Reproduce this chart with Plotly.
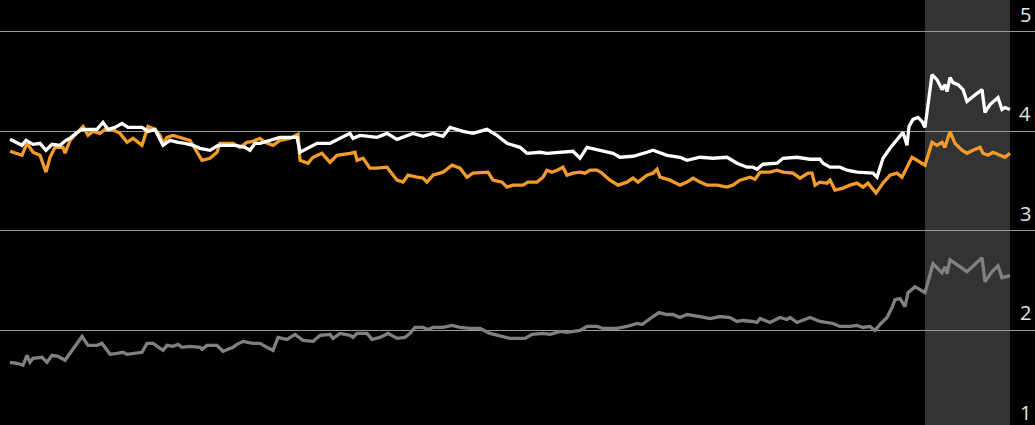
import plotly.graph_objects as go

# ---- data (x = trading-day index) ----
white_x = [10, 22, 26, 33, 40, 46, 52, 60, 66, 70, 76, 82, 90, 97, 103, 108, 115, 122, 128, 135, 142, 148, 155, 163, 170, 178, 185, 193, 200, 210, 218, 225, 235, 245, 250, 255, 260, 280, 297, 300, 317, 330, 340, 350, 353, 360, 377, 387, 397, 413, 423, 433, 443, 450, 463, 473, 487, 497, 507, 520, 527, 540, 547, 560, 573, 580, 587, 600, 613, 620, 633, 647, 653, 667, 680, 687, 700, 713, 727, 737, 747, 753, 757, 763, 777, 783, 797, 810, 820, 823, 830, 840, 847, 857, 867, 873, 877, 883, 890, 897, 903, 907, 909, 913, 918, 922, 925, 932, 937, 942, 945, 947, 950, 953, 958, 963, 967, 973, 982, 985, 990, 998, 1002, 1005, 1010]
white_y = [3.92, 3.86, 3.91, 3.87, 3.88, 3.81, 3.87, 3.86, 3.91, 3.93, 3.98, 4.02, 4.02, 4.02, 4.09, 4.02, 4.04, 4.08, 4.04, 4.04, 4.04, 4.00, 4.02, 3.86, 3.91, 3.89, 3.88, 3.86, 3.83, 3.81, 3.86, 3.86, 3.86, 3.84, 3.81, 3.88, 3.88, 3.94, 3.94, 3.79, 3.88, 3.88, 3.93, 3.98, 3.93, 3.96, 3.94, 3.98, 3.92, 3.98, 3.95, 3.98, 3.95, 4.04, 4.00, 3.98, 4.02, 3.96, 3.88, 3.84, 3.78, 3.79, 3.78, 3.79, 3.80, 3.73, 3.84, 3.81, 3.78, 3.74, 3.75, 3.79, 3.81, 3.76, 3.74, 3.71, 3.74, 3.73, 3.74, 3.68, 3.64, 3.64, 3.62, 3.67, 3.68, 3.73, 3.74, 3.72, 3.72, 3.68, 3.64, 3.64, 3.61, 3.59, 3.58, 3.58, 3.54, 3.73, 3.83, 3.91, 3.99, 3.86, 4.05, 4.12, 4.14, 4.10, 4.04, 4.57, 4.52, 4.42, 4.47, 4.40, 4.54, 4.49, 4.47, 4.42, 4.30, 4.35, 4.42, 4.19, 4.27, 4.34, 4.22, 4.24, 4.22]

orange_x = [10, 22, 27, 33, 40, 46, 50, 55, 63, 65, 70, 77, 83, 88, 93, 100, 105, 112, 120, 127, 133, 142, 148, 155, 160, 163, 167, 173, 180, 190, 202, 210, 217, 220, 233, 240, 247, 253, 260, 265, 273, 280, 290, 298, 300, 308, 313, 322, 330, 337, 350, 355, 357, 363, 370, 377, 387, 397, 403, 408, 417, 423, 427, 433, 443, 452, 460, 467, 473, 483, 488, 493, 502, 507, 513, 523, 528, 537, 543, 547, 552, 557, 563, 567, 573, 580, 585, 590, 597, 602, 610, 618, 627, 633, 638, 647, 653, 657, 660, 670, 680, 687, 693, 700, 707, 717, 727, 733, 740, 750, 755, 760, 770, 777, 783, 793, 800, 808, 812, 815, 820, 827, 830, 835, 843, 850, 857, 863, 868, 876, 883, 890, 897, 902, 907, 912, 917, 925, 932, 937, 942, 945, 950, 955, 962, 967, 973, 980, 983, 988, 993, 1000, 1005, 1010]
orange_y = [3.80, 3.76, 3.88, 3.79, 3.76, 3.59, 3.74, 3.84, 3.84, 3.78, 3.91, 3.98, 4.05, 3.96, 4.00, 3.98, 4.02, 4.02, 3.98, 3.89, 3.93, 3.86, 4.05, 4.02, 3.96, 3.88, 3.94, 3.96, 3.94, 3.91, 3.71, 3.73, 3.79, 3.88, 3.88, 3.84, 3.89, 3.90, 3.93, 3.89, 3.86, 3.91, 3.93, 3.97, 3.71, 3.68, 3.74, 3.78, 3.69, 3.76, 3.78, 3.79, 3.71, 3.73, 3.63, 3.63, 3.64, 3.51, 3.49, 3.56, 3.54, 3.53, 3.49, 3.56, 3.59, 3.66, 3.63, 3.54, 3.58, 3.59, 3.59, 3.51, 3.49, 3.44, 3.46, 3.46, 3.49, 3.49, 3.54, 3.61, 3.59, 3.61, 3.64, 3.56, 3.58, 3.59, 3.58, 3.61, 3.61, 3.58, 3.51, 3.46, 3.49, 3.53, 3.49, 3.56, 3.58, 3.62, 3.54, 3.51, 3.46, 3.49, 3.53, 3.49, 3.46, 3.46, 3.44, 3.46, 3.51, 3.54, 3.52, 3.59, 3.59, 3.61, 3.59, 3.58, 3.53, 3.58, 3.58, 3.46, 3.49, 3.48, 3.51, 3.41, 3.43, 3.46, 3.48, 3.44, 3.48, 3.38, 3.48, 3.56, 3.58, 3.54, 3.64, 3.74, 3.71, 3.66, 3.89, 3.86, 3.89, 3.84, 4.00, 3.88, 3.81, 3.78, 3.81, 3.84, 3.78, 3.76, 3.79, 3.76, 3.74, 3.78]

gray_x = [10, 17, 23, 27, 30, 33, 42, 47, 52, 58, 65, 70, 75, 82, 88, 97, 102, 110, 117, 123, 127, 133, 142, 147, 153, 163, 167, 173, 178, 182, 190, 200, 202, 207, 217, 223, 233, 237, 243, 253, 260, 267, 273, 278, 287, 295, 303, 313, 320, 330, 333, 340, 350, 353, 357, 367, 372, 380, 388, 397, 405, 410, 415, 423, 428, 433, 443, 452, 460, 470, 480, 490, 497, 510, 525, 532, 543, 550, 560, 567, 580, 587, 597, 603, 617, 627, 637, 642, 653, 659, 667, 673, 680, 687, 700, 710, 720, 730, 737, 743, 753, 757, 760, 770, 780, 787, 790, 797, 810, 820, 833, 840, 850, 857, 863, 870, 875, 880, 887, 892, 895, 900, 905, 908, 915, 925, 933, 942, 945, 947, 950, 957, 967, 982, 985, 992, 998, 1002, 1007, 1010]
gray_y = [1.68, 1.67, 1.65, 1.75, 1.68, 1.72, 1.73, 1.68, 1.75, 1.74, 1.70, 1.77, 1.85, 1.94, 1.85, 1.85, 1.87, 1.76, 1.77, 1.78, 1.76, 1.77, 1.78, 1.87, 1.87, 1.80, 1.85, 1.84, 1.86, 1.83, 1.84, 1.83, 1.81, 1.85, 1.85, 1.79, 1.83, 1.86, 1.89, 1.87, 1.87, 1.83, 1.80, 1.93, 1.91, 1.96, 1.90, 1.89, 1.95, 1.96, 1.92, 1.97, 1.95, 1.93, 1.97, 1.97, 1.91, 1.93, 1.97, 1.92, 1.93, 1.97, 2.03, 2.03, 2.01, 2.03, 2.03, 2.05, 2.03, 2.02, 2.02, 1.97, 1.95, 1.92, 1.92, 1.96, 1.97, 1.96, 1.99, 1.98, 2.00, 2.04, 2.04, 2.02, 2.02, 2.04, 2.07, 2.06, 2.14, 2.18, 2.16, 2.16, 2.13, 2.16, 2.14, 2.12, 2.14, 2.13, 2.09, 2.10, 2.09, 2.08, 2.12, 2.08, 2.13, 2.11, 2.13, 2.08, 2.13, 2.09, 2.07, 2.04, 2.04, 2.05, 2.03, 2.04, 2.00, 2.06, 2.13, 2.23, 2.31, 2.32, 2.24, 2.38, 2.44, 2.38, 2.67, 2.58, 2.64, 2.57, 2.71, 2.66, 2.59, 2.73, 2.49, 2.59, 2.65, 2.53, 2.54, 2.55]

shade_start, shade_end = 925, 1010
tick_values = [1, 2, 3, 4, 5]
tick_labels = ["1", "2", "3", "4", "5"]

X_RANGE = [0, 1035]
Y_RANGE = [1.05, 5.32]

fig = go.Figure()
fig.add_trace(go.Scatter(x=gray_x, y=gray_y, mode="lines",
                         line=dict(color="#808080", width=3.3), hoverinfo="skip"))
fig.add_trace(go.Scatter(x=orange_x, y=orange_y, mode="lines",
                         line=dict(color="#f59b2c", width=3.3), hoverinfo="skip"))
fig.add_trace(go.Scatter(x=white_x, y=white_y, mode="lines",
                         line=dict(color="#ffffff", width=3.3), hoverinfo="skip"))

fig.add_shape(type="rect", xref="x", yref="paper", x0=shade_start, x1=shade_end,
              y0=0, y1=1, fillcolor="#333333", line=dict(width=0), layer="below")

for v, t in zip(tick_values, tick_labels):
    py = (v - Y_RANGE[0]) / (Y_RANGE[1] - Y_RANGE[0])
    fig.add_annotation(x=1, xref="paper", y=py, yref="paper", text=t,
                       xanchor="right", yanchor="bottom", showarrow=False,
                       xshift=-2, yshift=2,
                       font=dict(family="Open Sans", size=20, color="#e6e6e6"))

fig.update_layout(
    width=1035, height=425,
    margin=dict(l=0, r=0, t=0, b=0),
    paper_bgcolor="#000000", plot_bgcolor="#000000",
    showlegend=False,
    xaxis=dict(range=X_RANGE, visible=False, showgrid=False, zeroline=False),
    yaxis=dict(range=Y_RANGE, tickvals=tick_values, showticklabels=False,
               showgrid=True, gridcolor="#999999", gridwidth=1, zeroline=False,
               showline=False, ticks=""),
)

fig.write_html(
    "out.html",
    config={"displayModeBar": False},
    post_script="document.body.style.margin='0';document.body.style.background='#000';"
                "document.documentElement.style.overflow='hidden';",
)
